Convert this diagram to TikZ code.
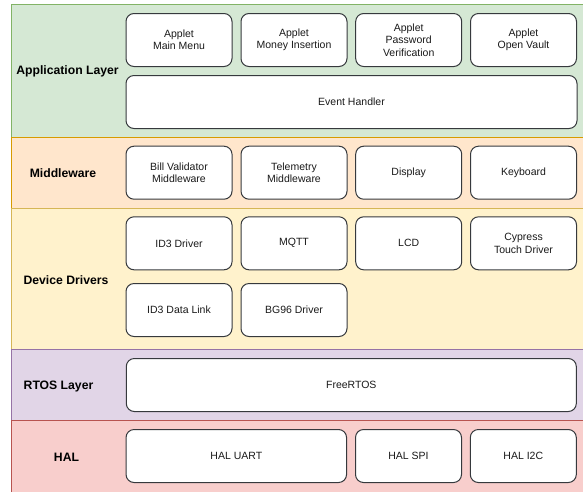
\documentclass[tikz,border=0pt]{standalone}
\usepackage{fontspec}
\setmainfont{Liberation Sans}
\definecolor{gfill}{HTML}{D5E8D4}\definecolor{gline}{HTML}{82B366}
\definecolor{ofill}{HTML}{FFE6CC}\definecolor{oline}{HTML}{D79B00}
\definecolor{yfill}{HTML}{FFF2CC}\definecolor{yline}{HTML}{D6B656}
\definecolor{pfill}{HTML}{E1D5E7}\definecolor{pline}{HTML}{9673A6}
\definecolor{rfill}{HTML}{F8CECC}\definecolor{rline}{HTML}{B85450}
\definecolor{boxline}{HTML}{36393D}
\definecolor{txt}{HTML}{1A1A1A}
\begin{document}
\begin{tikzpicture}[x=1pt,y=-1pt,
  band/.style={line width=0.9pt},
  box/.style={draw=boxline,fill=white,line width=1pt,rounded corners=8pt,
    minimum height=53pt,inner sep=0pt,align=center,text=txt,
    font=\fontsize{10.5}{12.4}\selectfont},
  wbox/.style={box,minimum width=106pt},
  lab/.style={font=\fontsize{12.2}{14}\selectfont\bfseries,text=black,inner sep=0pt}]
\useasboundingbox (0,0) rectangle (583,491);
\begin{scope}
\clip (0,0) rectangle (583,491);
\draw[band,fill=gfill,draw=gline] (11,4) rectangle (600,137);
\draw[band,fill=ofill,draw=oline] (11,137) rectangle (600,208);
\draw[band,fill=yfill,draw=yline] (11,208) rectangle (600,349);
\draw[band,fill=pfill,draw=pline] (11,349) rectangle (600,420);
\draw[band,fill=rfill,draw=rline] (11,420) rectangle (600,500);
\end{scope}
% layer labels
\node[lab] (lapp) at (67.5,71) {Application Layer};
\node[lab] (lmid) at (63,173) {Middleware};
\node[lab] (ldd) at (66,280) {Device Drivers};
\node[lab] (lrtos) at (58.5,386) {RTOS Layer};
\node[lab] (lhal) at (66.5,457) {HAL};
% application
\node[wbox] (a1) at (179,40) {Applet\\Main Menu};
\node[wbox] (a2) at (294,40) {Applet\\Money Insertion};
\node[wbox] (a3) at (408.7,40) {Applet\\Password\\Verification};
\node[wbox] (a4) at (523.5,40) {Applet\\Open Vault};
\node[box,minimum width=451pt] (eh) at (351.5,102) {Event Handler};
% middleware
\node[wbox] (m1) at (179,172.7) {Bill Validator\\Middleware};
\node[wbox] (m2) at (294,172.7) {Telemetry\\Middleware};
\node[wbox] (m3) at (408.7,172.7) {Display};
\node[wbox] (m4) at (523.5,172.7) {Keyboard};
% device drivers
\node[wbox] (d1) at (179,243.3) {ID3 Driver};
\node[wbox] (d2) at (294,243.3) {MQTT};
\node[wbox] (d3) at (408.7,243.3) {LCD};
\node[wbox] (d4) at (523.5,243.3) {Cypress\\Touch Driver};
\node[wbox] (d5) at (179,310) {ID3 Data Link};
\node[wbox] (d6) at (294,310) {BG96 Driver};
% rtos
\node[box,minimum width=450pt] (rtos) at (351.3,385) {FreeRTOS};
% hal
\node[box,minimum width=220.5pt] (h1) at (236.3,456) {HAL UART};
\node[wbox] (h2) at (408.5,456) {HAL SPI};
\node[wbox] (h3) at (523.3,456) {HAL I2C};
\end{tikzpicture}
\end{document}
